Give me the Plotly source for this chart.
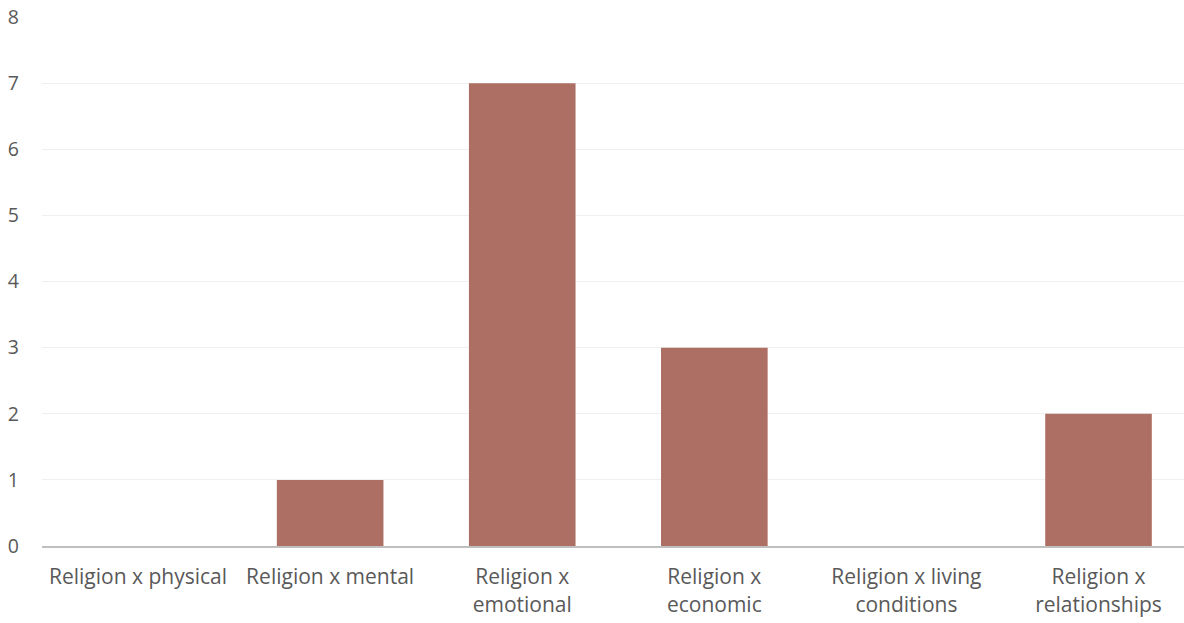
import plotly.graph_objects as go

categories = ["Religion x physical", "Religion x mental", "Religion x emotional",
              "Religion x economic", "Religion x living conditions", "Religion x relationships"]
tick_labels = ["Religion x physical", "Religion x mental", "Religion x<br>emotional",
               "Religion x<br>economic", "Religion x living<br>conditions", "Religion x<br>relationships"]
values = [0, 1, 7, 3, 0, 2]
y_ticks = [0, 1, 2, 3, 4, 5, 6, 7, 8]

fig = go.Figure()
fig.add_trace(go.Bar(
    x=categories, y=values,
    marker=dict(color="#AD6F63", line=dict(width=0)),
    width=0.555,
))

text_color = "#595959"
fig.update_layout(
    width=1184, height=623,
    margin=dict(l=42, r=0, t=17, b=77),
    paper_bgcolor="white", plot_bgcolor="white",
    font=dict(family="Open Sans", size=20, color=text_color),
    showlegend=False,
    xaxis=dict(
        type="category",
        tickmode="array", tickvals=categories, ticktext=tick_labels,
        range=[-0.5, 5.445],
        showline=True, linecolor="#BFBFBF", linewidth=2,
        showgrid=False, ticks="", ticklabelstandoff=11,
        tickfont=dict(size=21, color=text_color),
    ),
    yaxis=dict(
        range=[0, 8], tickvals=y_ticks,
        showgrid=True, gridcolor="#EFEFEF", gridwidth=1,
        zeroline=False, showline=False, ticks="",
        ticklabelstandoff=22,
        tickfont=dict(size=19.5, color=text_color),
    ),
)
fig.write_html(
    "out.html",
    config={"displayModeBar": False},
    post_script="document.body.style.margin='0';document.body.style.overflow='hidden';",
)
